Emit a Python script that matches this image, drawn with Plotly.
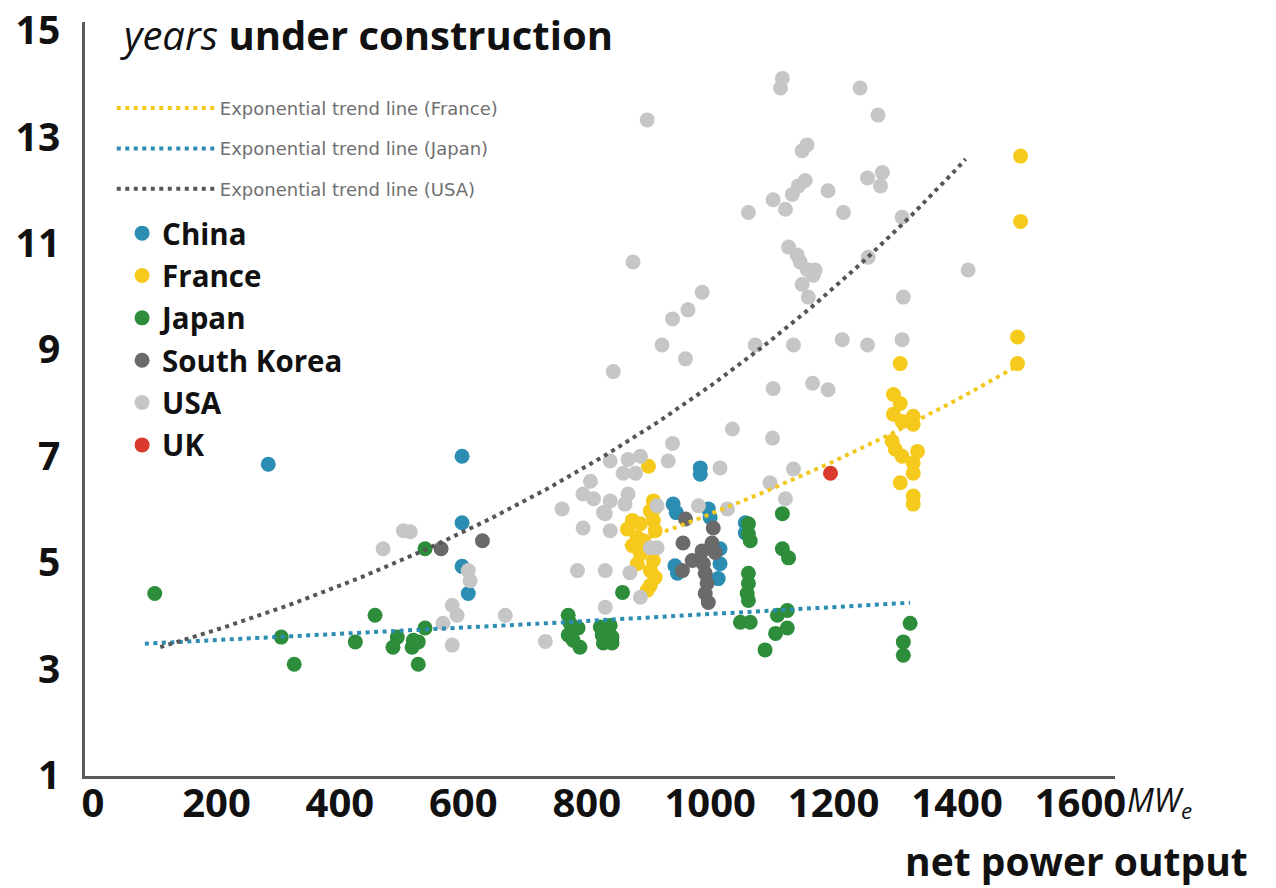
import numpy as np
import plotly.graph_objects as go

# ---- reactor data: net power output (MWe) and years under construction ----
china_mw = [284, 598, 598, 598, 608, 984, 984, 940, 945, 997, 1000, 1016, 1016, 1013,
            943, 947, 1057, 1057]
china_years = [6.85, 7.00, 5.75, 4.93, 4.42, 6.78, 6.66, 6.10, 5.94, 6.01, 5.85, 5.26,
               4.98, 4.70, 4.94, 4.80, 5.75, 5.56]

france_mw = [1503, 1503, 1498, 1498,
             1308, 1297, 1308, 1297, 1311, 1329, 1329, 1295, 1300, 1311, 1336, 1329,
             1329, 1308, 1329, 1329,
             900, 908, 903, 874, 887, 908, 882, 874, 911, 887, 908, 882, 903, 911, 903,
             898, 911, 866, 892]
france_years = [12.64, 11.41, 9.24, 8.74,
                8.74, 8.16, 7.99, 7.79, 7.65, 7.75, 7.60, 7.28, 7.13, 7.00, 7.09, 6.87,
                6.68, 6.50, 6.25, 6.10,
                6.81, 6.16, 5.97, 5.79, 5.73, 5.79, 5.47, 5.32, 5.60, 5.17, 5.04, 4.98,
                4.85, 4.72, 4.57, 4.48, 6.03, 5.63, 5.41]

japan_mw = [100, 305, 326, 425, 457, 486, 493, 517, 519, 527, 538, 527, 538,
            770, 773, 786, 770, 778, 789, 822, 838, 825, 841, 827, 841, 858,
            1062, 1062, 1065, 1062, 1062, 1060, 1062, 1049, 1065,
            1117, 1117, 1127, 1125, 1109, 1125, 1106, 1089,
            1324, 1313, 1313]
japan_years = [4.42, 3.60, 3.09, 3.51, 4.01, 3.41, 3.60, 3.41, 3.54, 3.51, 3.77, 3.09, 5.26,
               4.01, 3.86, 3.77, 3.64, 3.54, 3.41, 3.79, 3.82, 3.64, 3.60, 3.49, 3.49, 4.44,
               5.73, 5.54, 5.41, 4.80, 4.61, 4.42, 4.29, 3.88, 3.88,
               5.92, 5.26, 5.09, 4.10, 4.01, 3.77, 3.67, 3.36,
               3.86, 3.51, 3.26]

korea_mw = [564, 631, 960, 1005, 956, 971, 955, 987, 1003, 1008, 989, 992, 995, 992, 997]
korea_years = [5.26, 5.41, 5.82, 5.65, 5.37, 5.04, 4.85, 5.22, 5.37, 5.19, 4.98, 4.80,
               4.61, 4.42, 4.25]

usa_mw = [470, 503, 514, 608, 611, 582, 590, 567, 582, 668, 733, 760,
          794, 785, 830, 870, 830, 838, 830, 887, 903, 914, 939, 838, 867, 887, 932,
          859, 879, 806, 794, 811, 838, 867, 862, 827, 914, 981, 1016, 1028, 1036,
          1101, 1135, 1097, 1122, 1102, 1166, 1191, 843,
          1117, 1114, 1243, 1272, 898, 1157, 1149, 1255, 1279, 1276, 1154, 1143, 1133,
          1102, 1122, 1191, 1216, 1062, 1311, 1127, 1141, 1146, 1157, 1170, 1167, 1149,
          1159, 1256, 1418, 875, 987, 964, 939, 922, 960, 1073, 1135, 1214, 1255, 1311,
          1313]
usa_years = [5.26, 5.60, 5.58, 4.85, 4.66, 4.20, 4.01, 3.86, 3.45, 4.01, 3.52, 6.01,
             5.65, 4.85, 4.85, 4.81, 5.92, 5.60, 4.16, 4.35, 5.28, 5.28, 7.24, 6.91, 6.94,
             7.00, 6.91, 6.68, 6.68, 6.53, 6.29, 6.20, 6.16, 6.29, 6.10, 5.94, 6.07, 6.07,
             6.78, 6.01, 7.51, 7.34, 6.76, 6.50, 6.20, 8.27, 8.37, 8.25, 8.59,
             14.10, 13.92, 13.92, 13.41, 13.32, 12.85, 12.74, 12.23, 12.33, 12.08, 12.18,
             12.08, 11.92, 11.82, 11.64, 11.99, 11.58, 11.58, 11.49, 10.93, 10.78, 10.65,
             10.51, 10.50, 10.40, 10.23, 9.99, 10.74, 10.50, 10.65, 10.08, 9.75, 9.58,
             9.09, 8.83, 9.09, 9.09, 9.19, 9.09, 9.19, 9.99]

uk_mw = [1195]
uk_years = [6.68]

# exponential trend lines  y = a * exp(b * x), drawn over [x_from, x_to]
trend_names = ["France", "Japan", "USA"]
trend_a = [2.72, 3.43, 3.06]
trend_b = [0.000776, 0.000161, 0.00100]
trend_from = [862, 84, 109]
trend_to = [1500, 1324, 1414]

x_ticks = [0, 200, 400, 600, 800, 1000, 1200, 1400, 1600]
y_ticks = [1, 3, 5, 7, 9, 11, 13, 15]

colors = {
    "China": "#2b8db2",
    "France": "#f6ca1c",
    "Japan": "#2e8d3b",
    "South Korea": "#6a6a6a",
    "USA": "#c6c6c6",
    "UK": "#d93a2c",
}
trend_colors = {"France": "#f2c81f", "Japan": "#2b8db2", "USA": "#555555"}

series = {
    "China": (china_mw, china_years),
    "France": (france_mw, france_years),
    "Japan": (japan_mw, japan_years),
    "South Korea": (korea_mw, korea_years),
    "USA": (usa_mw, usa_years),
    "UK": (uk_mw, uk_years),
}
legend_order = ["China", "France", "Japan", "South Korea", "USA", "UK"]
draw_order = ["China", "France", "USA", "Japan", "South Korea", "UK"]

FONT = "Open Sans"
fig = go.Figure()

for name in draw_order:
    xs, ys = series[name]
    fig.add_trace(go.Scatter(
        x=xs, y=ys, mode="markers", name=name,
        marker=dict(size=15, color=colors[name], line=dict(width=0)),
        legend="legend2", legendgroup=name,
        legendrank=legend_order.index(name) + 1,
    ))

for i, name in enumerate(trend_names):
    xs = np.linspace(trend_from[i], trend_to[i], 120)
    ys = trend_a[i] * np.exp(trend_b[i] * xs)
    fig.add_trace(go.Scatter(
        x=xs, y=ys, mode="lines",
        name=f"Exponential trend line ({name})",
        line=dict(color=trend_colors[name], width=4, dash="4px,4.5px"),
        legend="legend", legendgroup="t" + name, legendrank=i + 1,
    ))

fig.update_layout(
    width=1276, height=888,
    margin=dict(l=85, r=161, t=22, b=112, autoexpand=False),
    paper_bgcolor="white", plot_bgcolor="white",
    font=dict(family=FONT, color="#111111"),
    xaxis=dict(
        range=[-13, 1656], showgrid=False, zeroline=False, automargin=False,
        showline=True, linecolor="#5a5a5a", linewidth=3,
        tickmode="array", tickvals=x_ticks, ticks="",
        tickfont=dict(family=FONT, size=40, color="#111111", weight="bold"),
        ticklabelstandoff=-10,
    ),
    yaxis=dict(
        range=[0.99, 15.16], showgrid=False, zeroline=False, automargin=False,
        showline=True, linecolor="#5a5a5a", linewidth=3,
        tickmode="array", tickvals=y_ticks, ticks="",
        tickfont=dict(family=FONT, size=39, color="#111111", weight="bold"),
        ticklabelstandoff=14, ticklabeloverflow="allow",
    ),
    legend=dict(
        x=0.026, y=0.91, xanchor="left", yanchor="top",
        bgcolor="rgba(0,0,0,0)", borderwidth=0,
        font=dict(family="DejaVu Sans", size=18, color="#707070"),
        itemwidth=98, tracegroupgap=14, traceorder="grouped",
    ),
    legend2=dict(
        x=0.036, y=0.754, xanchor="left", yanchor="top",
        bgcolor="rgba(0,0,0,0)", borderwidth=0,
        font=dict(family=FONT, size=29.5, color="#111111", weight="bold"),
        itemwidth=30, tracegroupgap=1, traceorder="grouped",
    ),
    showlegend=True,
)

fig.add_annotation(
    text="<i>years</i> <b>under construction</b>",
    xref="paper", yref="paper", x=0.032, y=0.984,
    xanchor="left", yanchor="middle", showarrow=False,
    font=dict(family=FONT, size=40, color="#111111"),
)
fig.add_annotation(
    text="<i>MW<sub>e</sub></i>",
    xref="paper", yref="paper", x=1.01, y=-0.034,
    xanchor="left", yanchor="middle", showarrow=False,
    font=dict(family=FONT, size=32, color="#111111"),
)
fig.add_annotation(
    text="<b>net power output</b>",
    xref="paper", yref="paper", x=1.131, y=-0.112,
    xanchor="right", yanchor="middle", showarrow=False,
    font=dict(family=FONT, size=39, color="#111111"),
)

fig.write_html("out.html")
